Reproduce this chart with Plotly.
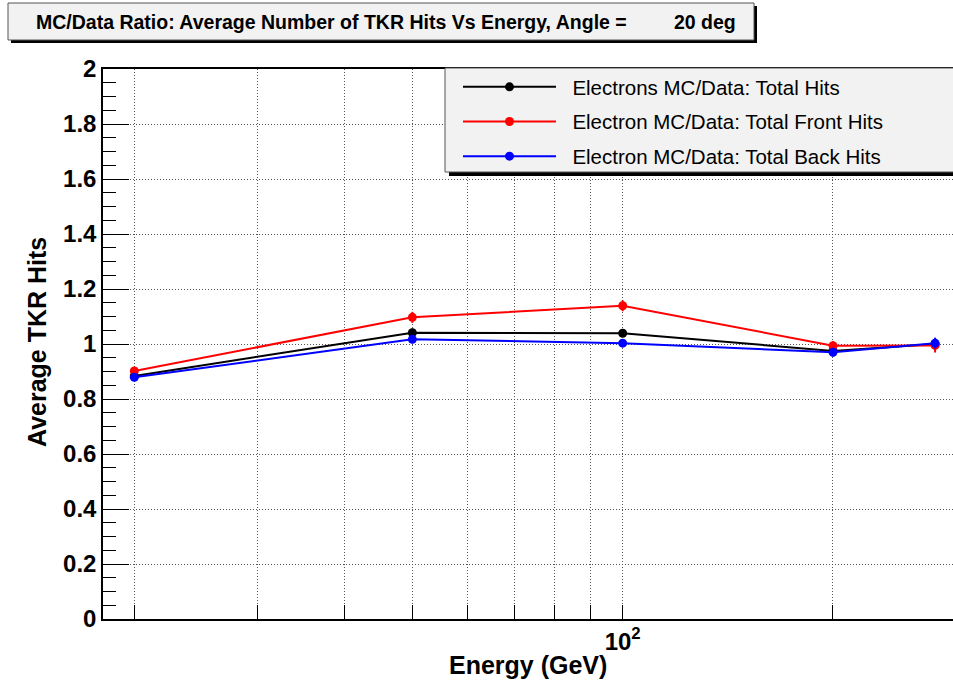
import plotly.graph_objects as go

# ---- data ----
energy = [20, 50, 100, 200, 280]
total_hits = [0.884, 1.041, 1.039, 0.975, 1.000]
total_hits_err = [0.010, 0.015, 0.010, 0.012, 0.014]
front_hits = [0.902, 1.097, 1.139, 0.994, 0.995]
front_hits_err = [0.010, 0.020, 0.020, 0.016, 0.026]
back_hits = [0.879, 1.017, 1.003, 0.970, 1.003]
back_hits_err = [0.010, 0.014, 0.010, 0.016, 0.020]

series_names = ["Electrons MC/Data: Total Hits",
                "Electron MC/Data: Total Front Hits",
                "Electron MC/Data: Total Back Hits"]
series_colors = ["#000000", "#ff0000", "#0000ff"]

x_tickvals = [20, 30, 40, 50, 60, 70, 80, 90, 100, 200]
x_ticktext = ["", "", "", "", "", "", "", "", "10<sup>2</sup>", ""]

title_left = "MC/Data Ratio: Average Number of TKR Hits Vs Energy, Angle ="
title_right = "20 deg"
x_title = "Energy (GeV)"
y_title = "Average TKR Hits"

FONT = "Liberation Sans, Arial, Helvetica, sans-serif"

W, H = 953, 681
ML, MR, MT, MB = 103, 0, 69, 62
PW = W - ML - MR
PH = H - MT - MB


def px(x):
    return (x - ML) / PW


def py(y):
    return (H - MB - y) / PH


fig = go.Figure()
for name, ys, errs, col, grp in zip(series_names,
                                     [total_hits, front_hits, back_hits],
                                     [total_hits_err, front_hits_err, back_hits_err],
                                     series_colors, ["a", "b", "c"]):
    fig.add_trace(go.Scatter(
        x=energy, y=ys, name="\u00a0\u00a0" + name, mode="lines+markers",
        line=dict(color=col, width=2),
        marker=dict(color=col, size=9),
        error_y=dict(type="data", array=errs, visible=True, color=col,
                     thickness=2, width=0),
        legendgroup=grp,
    ))

GRIDDASH = "1px,2px"

fig.update_layout(
    width=W, height=H,
    margin=dict(l=ML, r=MR, t=MT, b=MB),
    paper_bgcolor="white", plot_bgcolor="white",
    font=dict(family=FONT, color="black"),
    showlegend=True,
    legend=dict(x=px(458), y=py(67), xanchor="left", yanchor="top",
                bgcolor="rgba(0,0,0,0)", borderwidth=0,
                font=dict(family=FONT, size=20.5, color="black"),
                itemwidth=93, tracegroupgap=5),
    xaxis=dict(type="log", range=[1.2562, 2.4728],
               tickvals=x_tickvals, ticktext=x_ticktext,
               ticks="inside", ticklen=14, tickcolor="black", tickwidth=1,
               showgrid=True, gridcolor="#555", griddash=GRIDDASH, gridwidth=1,
               showline=True, linecolor="black", linewidth=1.5, mirror=True,
               tickfont=dict(family=FONT, size=24, color="black", weight="bold"),
               zeroline=False),
    xaxis2=dict(type="log", range=[1.2562, 2.4728], overlaying="x", anchor="y",
                side="bottom", tickvals=[100], ticks="inside", ticklen=28,
                tickcolor="black", showticklabels=False, showgrid=False,
                showline=False, zeroline=False),
    yaxis=dict(range=[0, 2], dtick=0.2, tick0=0,
               ticks="inside", ticklen=26, tickcolor="black", tickwidth=1,
               minor=dict(dtick=0.05, ticks="inside", ticklen=13, tickcolor="black", showgrid=False),
               showgrid=True, gridcolor="#555", griddash=GRIDDASH, gridwidth=1,
               showline=True, linecolor="black", linewidth=1.5, mirror=False,
               tickfont=dict(family=FONT, size=24, color="black", weight="bold"),
               zeroline=False),
)

# axis titles
fig.add_annotation(text="<b>" + x_title + "</b>", xref="paper", yref="paper",
                   x=px(528), y=py(665), showarrow=False,
                   font=dict(family=FONT, size=25, color="black"),
                   xanchor="center", yanchor="middle")
fig.add_annotation(text="<b>" + y_title + "</b>", xref="paper", yref="paper",
                   x=px(37), y=py(342), showarrow=False, textangle=-90,
                   font=dict(family=FONT, size=25, color="black"),
                   xanchor="center", yanchor="middle")

# title box with shadow
fig.add_shape(type="rect", xref="paper", yref="paper",
              x0=px(11), x1=px(757), y0=py(43), y1=py(6),
              fillcolor="black", line=dict(width=0))
fig.add_shape(type="rect", xref="paper", yref="paper",
              x0=px(8), x1=px(754), y0=py(40), y1=py(3),
              fillcolor="#f2f2f2", line=dict(color="#555", width=1))
fig.add_annotation(text="<b>" + title_left + "</b>", xref="paper", yref="paper",
                   x=px(34), y=py(22), showarrow=False,
                   font=dict(family=FONT, size=19.5, color="black"),
                   xanchor="left", yanchor="middle")
fig.add_annotation(text="<b>" + title_right + "</b>", xref="paper", yref="paper",
                   x=px(705), y=py(22), showarrow=False,
                   font=dict(family=FONT, size=19.5, color="black"),
                   xanchor="center", yanchor="middle")

# legend box with shadow
fig.add_shape(type="rect", xref="paper", yref="paper",
              x0=px(449), x1=px(960), y0=py(176), y1=py(72),
              fillcolor="black", line=dict(width=0))
fig.add_shape(type="rect", xref="paper", yref="paper",
              x0=px(445), x1=px(956), y0=py(172), y1=py(68),
              fillcolor="#f2f2f2", line=dict(color="#555", width=1))

fig.write_html("out.html", config={"displayModeBar": False},
               post_script="document.body.style.margin='0';document.body.style.overflow='hidden';")
